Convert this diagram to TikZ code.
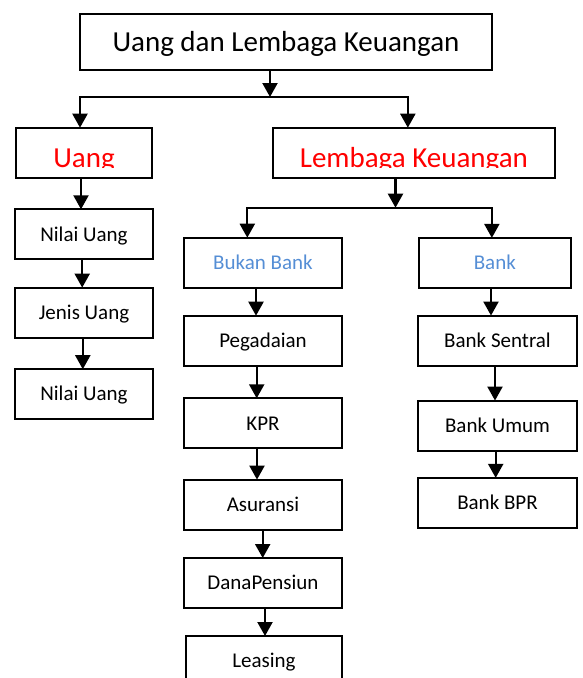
\documentclass[tikz,border=0pt]{standalone}
\usepackage{fontspec}
\setmainfont{Carlito}
\usepackage{tikz}
\usetikzlibrary{
arrows.meta,
positioning
}
\definecolor{headred}{HTML}{FF0000}
\definecolor{headblue}{HTML}{558ED5}

\begin{document}
\begin{tikzpicture}[
x=1pt,
y=-1pt,
node distance=28pt,
box/.style={
rectangle,
draw=black,
line width=2pt,
inner sep=0pt,
outer sep=0pt,
minimum width=158pt,
minimum height=50pt,
align=center,
font=\fontsize{21}{25}\selectfont,
text height=13.5pt,
text depth=0pt
},
titlebox/.style={
box,
minimum width=412pt,
minimum height=56pt,
font=\fontsize{29}{34}\selectfont,
text height=18.7pt
},
headtext/.style={
inner sep=0pt,
text=headred,
font=\fontsize{29}{34}\selectfont,
anchor=base
},
arrow/.style={-{Triangle[length=14pt,width=15pt]},line width=2.2pt}
]

\useasboundingbox (0,0) rectangle (582,678);
\clip (0,0) rectangle (582,678);

\node[titlebox] (top) at (286,42) {Uang dan Lembaga Keuangan};

\node[box, minimum width=136pt] (uang) at (84,152.7) {};
\node[box, minimum width=282pt] (lembaga) at (413.85,152.7) {};

\begin{scope}
\clip (uang.north west) rectangle ([yshift=10pt]uang.south east);
\node[headtext] (uangtext) at ([yshift=10.5pt]uang.south) {Uang};
\end{scope}
\begin{scope}
\clip (lembaga.north west) rectangle ([yshift=10pt]lembaga.south east);
\node[headtext] (lembagatext) at ([yshift=10.5pt]lembaga.south) {Lembaga Keuangan};
\end{scope}

\node[box, minimum width=137.6pt, below=31.6pt of uang] (nilai) {Nilai Uang};
\node[box, minimum width=137.6pt, below=28.3pt of nilai] (jenis) {Jenis Uang};
\node[box, minimum width=137.6pt, below=31.6pt of jenis] (nilaib) {Nilai Uang};

\node[box, text=headblue] (bukan) at (263,262.7) {Bukan Bank};
\node[box, text=headblue, minimum width=152.3pt] (bank) at (494.85,262.85) {Bank};

\node[box, below=28pt of bukan] (gadai) {Pegadaian};
\node[box, below=32.6pt of gadai] (kpr) {KPR};
\node[box, below=31.3pt of kpr] (asuransi) {Asuransi};
\node[box, below=28.4pt of asuransi] (dana) {DanaPensiun};
\node[box, minimum width=156pt, below=28pt of dana, xshift=1pt] (leasing) {Leasing};

\node[box, minimum width=159pt, below=27.7pt of bank, xshift=2.65pt] (sentral) {Bank Sentral};
\node[box, minimum width=159pt, below=35pt of sentral] (umum) {Bank Umum};
\node[box, minimum width=159pt, below=27.3pt of umum] (bpr) {Bank BPR};

\coordinate (jtop) at (270,97);
\draw[arrow] (top.south -| jtop) -- (jtop);
\draw[arrow] (jtop) -| ([xshift=-4pt]uang.north);
\draw[arrow] (jtop) -| ([xshift=-6pt]lembaga.north);

\coordinate (jlk) at (395.5,207.7);
\draw[arrow] (lembaga.south -| jlk) -- (jlk);
\draw[arrow] (jlk) -| ([xshift=-15.7pt]bukan.north);
\draw[arrow] (jlk) -| ([xshift=-3pt]bank.north);

\draw[arrow] ([xshift=-3pt]uang.south) -- ([xshift=-3pt]uang.south |- nilai.north);
\draw[arrow] ([xshift=-1.8pt]nilai.south) -- ([xshift=-1.8pt]nilai.south |- jenis.north);
\draw[arrow] ([xshift=-1.2pt]jenis.south) -- ([xshift=-1.2pt]jenis.south |- nilaib.north);

\draw[arrow] ([xshift=-7pt]bukan.south) -- ([xshift=-7pt]bukan.south |- gadai.north);
\draw[arrow] ([xshift=-6.3pt]gadai.south) -- ([xshift=-6.3pt]gadai.south |- kpr.north);
\draw[arrow] ([xshift=-6pt]kpr.south) -- ([xshift=-6pt]kpr.south |- asuransi.north);
\draw[arrow] ([xshift=-0.3pt]asuransi.south) -- ([xshift=-0.3pt]asuransi.south |- dana.north);
\draw[arrow] ([xshift=2pt]dana.south) -- ([xshift=2pt]dana.south |- leasing.north);

\draw[arrow] ([xshift=-3.85pt]bank.south) -- ([xshift=-3.85pt]bank.south |- sentral.north);
\draw[arrow] ([xshift=-2.5pt]sentral.south) -- ([xshift=-2.5pt]sentral.south |- umum.north);
\draw[arrow] ([xshift=-1.8pt]umum.south) -- ([xshift=-1.8pt]umum.south |- bpr.north);

\end{tikzpicture}
\end{document}
